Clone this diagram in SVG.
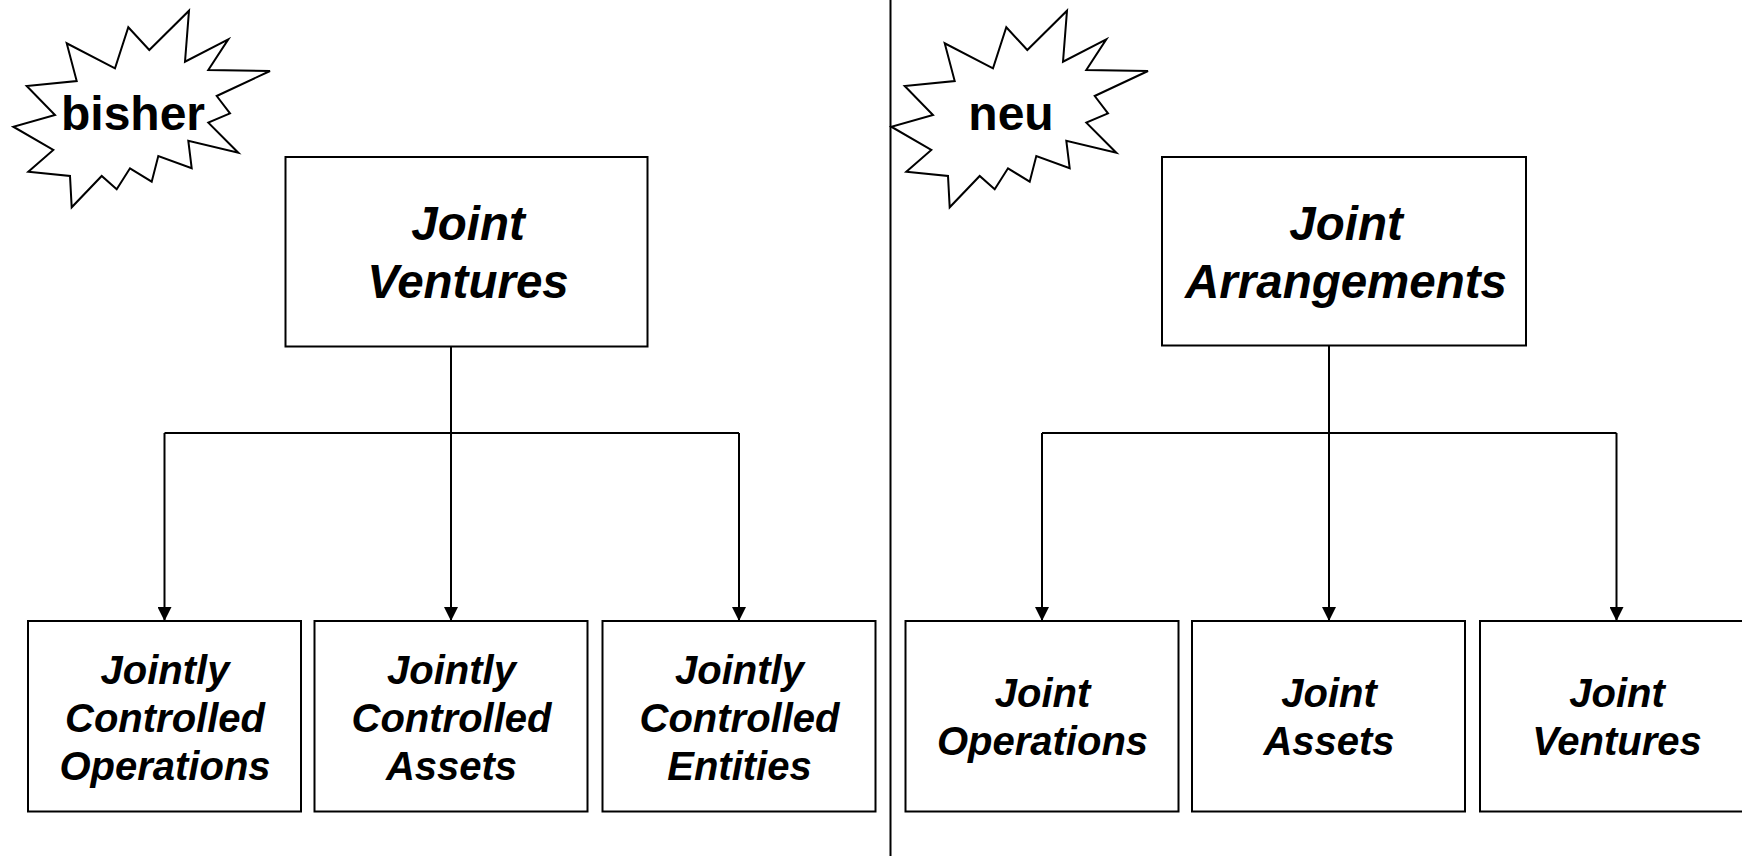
<svg xmlns="http://www.w3.org/2000/svg" width="1742" height="856" viewBox="0 0 1742 856">
<style>
.box{fill:#fff;stroke:#000;stroke-width:2}
.star{fill:#fff;stroke:#000;stroke-width:2;stroke-linejoin:miter}
.t{font-family:"Liberation Sans",Arial,sans-serif;font-weight:bold;font-style:italic;text-anchor:middle;fill:#000}
.top{font-size:47.5px}
.sub{font-size:40px}
.lbl{font-family:"Liberation Sans",Arial,sans-serif;font-weight:bold;font-size:48px;text-anchor:middle;fill:#000}
.con{fill:none;stroke:#000;stroke-width:2}
</style>
<defs>
<marker id="arr" markerUnits="userSpaceOnUse" markerWidth="14" markerHeight="14" viewBox="0 0 14 14" refX="14" refY="7" orient="auto">
<path d="M0,0 L14,7 L0,14 z" fill="#000"/>
</marker>
<polygon id="starShape" points="189,10.7 185,61.7 228.3,39.3 208.3,70 270,71 216.7,96 230,113.3 208.3,122.7 238.3,152.7 188.3,140.7 191.7,168.3 158.3,156 151.7,181.7 130,168.3 116.7,189.3 101.7,176 71.7,207.3 70,176 28.3,171.7 53.3,150 13.3,126.7 55,115 26.7,86 76.7,81 66.7,43.3 115,68.3 128.3,27.3 149.3,50"/>
</defs>
<rect width="1742" height="856" fill="#fff"/>
<line x1="890.5" y1="0" x2="890.5" y2="856" stroke="#000" stroke-width="2"/>

<g id="star-bisher">
<use href="#starShape" class="star"/>
<text class="lbl" x="133" y="130">bisher</text>
</g>
<g id="star-neu">
<use href="#starShape" class="star" transform="translate(878,0)"/>
<text class="lbl" x="1011" y="130">neu</text>
</g>

<g id="connectors">
<path class="con" d="M451,346 V621" marker-end="url(#arr)"/>
<path class="con" d="M164.5,433 H739"/>
<path class="con" d="M164.5,433 V621" marker-end="url(#arr)"/>
<path class="con" d="M739,433 V621" marker-end="url(#arr)"/>
<path class="con" d="M1329,345 V621" marker-end="url(#arr)"/>
<path class="con" d="M1042,433 H1616.5"/>
<path class="con" d="M1042,433 V621" marker-end="url(#arr)"/>
<path class="con" d="M1616.5,433 V621" marker-end="url(#arr)"/>
</g>

<g id="jv-old">
<rect class="box" x="285.5" y="157" width="362" height="189.5"/>
<text class="t top" x="468" y="240">Joint</text>
<text class="t top" x="468" y="298">Ventures</text>
</g>
<g id="jco">
<rect class="box" x="28" y="621" width="273" height="190.5"/>
<text class="t sub" x="165" y="684">Jointly</text>
<text class="t sub" x="165" y="732">Controlled</text>
<text class="t sub" x="165" y="780">Operations</text>
</g>
<g id="jca">
<rect class="box" x="314.5" y="621" width="273" height="190.5"/>
<text class="t sub" x="451.5" y="684">Jointly</text>
<text class="t sub" x="451.5" y="732">Controlled</text>
<text class="t sub" x="451.5" y="780">Assets</text>
</g>
<g id="jce">
<rect class="box" x="602.5" y="621" width="273" height="190.5"/>
<text class="t sub" x="739.5" y="684">Jointly</text>
<text class="t sub" x="739.5" y="732">Controlled</text>
<text class="t sub" x="739.5" y="780">Entities</text>
</g>

<g id="ja">
<rect class="box" x="1162" y="157" width="364" height="188.5"/>
<text class="t top" x="1346" y="240">Joint</text>
<text class="t top" x="1346" y="298">Arrangements</text>
</g>
<g id="jo">
<rect class="box" x="905.5" y="621" width="273" height="190.5"/>
<text class="t sub" x="1042.5" y="707">Joint</text>
<text class="t sub" x="1042.5" y="755">Operations</text>
</g>
<g id="jas">
<rect class="box" x="1192" y="621" width="273" height="190.5"/>
<text class="t sub" x="1329" y="707">Joint</text>
<text class="t sub" x="1329" y="755">Assets</text>
</g>
<g id="jv-new">
<rect class="box" x="1480" y="621" width="273" height="190.5"/>
<text class="t sub" x="1617" y="707">Joint</text>
<text class="t sub" x="1617" y="755">Ventures</text>
</g>
</svg>
